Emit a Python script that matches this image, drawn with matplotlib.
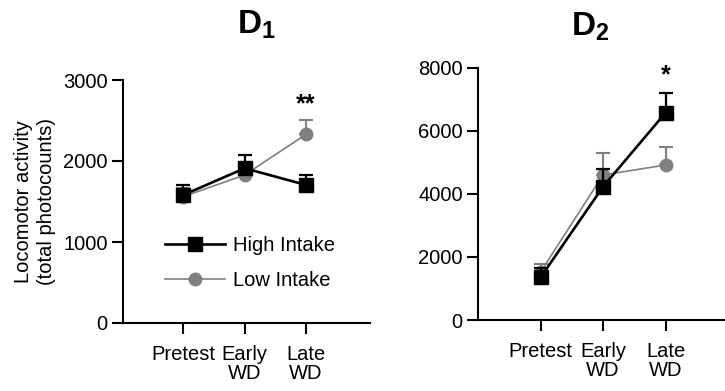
import matplotlib
matplotlib.use("Agg")
import matplotlib.pyplot as plt
import numpy as np

plt.rcParams['font.family'] = ['Liberation Sans', 'DejaVu Sans']
plt.rcParams['mathtext.fontset'] = 'custom'
plt.rcParams['mathtext.rm'] = 'Liberation Sans'
plt.rcParams['mathtext.bf'] = 'Liberation Sans:bold'
plt.rcParams['mathtext.it'] = 'Liberation Sans:italic'

categories = ["Pretest", "Early\nWD", "Late\nWD"]
x_pos = [1, 2, 3]

# Panel D1
d1_high = [1580, 1910, 1704]
d1_high_err = [124, 170, 123]
d1_low = [1560, 1827, 2330]
d1_low_err = [110, 150, 176]
d1_yticks = [0, 1000, 2000, 3000]

# Panel D2
d2_high = [1350, 4227, 6573]
d2_high_err = [300, 560, 615]
d2_low = [1520, 4600, 4914]
d2_low_err = [256, 685, 580]
d2_yticks = [0, 2000, 4000, 6000, 8000]

labels = ["High Intake", "Low Intake"]
titles = [r"$\mathbf{D_1}$", r"$\mathbf{D_2}$"]
sig_d1 = "**"
sig_d2 = "*"

W, H = 725, 391
fig = plt.figure(figsize=(W / 100, H / 100), dpi=100)

def fx(px):
    return px / W

def fy(py):
    return 1 - py / H

ax1 = fig.add_axes([fx(123), fy(323), fx(247), (323 - 80) / H])
ax2 = fig.add_axes([fx(478), fy(320), fx(247), (320 - 67.7) / H])

gray = "#808080"
FS = 14.5

def draw(ax, hi, hi_e, lo, lo_e, yticks, xlim):
    lo_l = ax.errorbar(x_pos, lo, yerr=[np.zeros(len(lo)), lo_e], color=gray,
                       marker='o', markersize=9, lw=1.2, capsize=5, capthick=1.5,
                       elinewidth=1.5, zorder=3)
    hi_l = ax.errorbar(x_pos, hi, yerr=[np.zeros(len(hi)), hi_e], color='black',
                       marker='s', markersize=9.5, lw=1.9, capsize=5, capthick=1.6,
                       elinewidth=1.6, zorder=4)
    ax.set_xlim(*xlim)
    ax.set_ylim(yticks[0], yticks[-1])
    ax.set_yticks(yticks)
    ax.set_xticks(x_pos)
    ax.set_xticklabels(categories, linespacing=1.0)
    for s in ['top', 'right']:
        ax.spines[s].set_visible(False)
    for s in ['left', 'bottom']:
        ax.spines[s].set_linewidth(1.5)
    ax.tick_params(axis='both', length=8, width=1.5, labelsize=FS)
    ax.tick_params(axis='y', pad=3)
    ax.tick_params(axis='x', pad=8)
    return hi_l, lo_l

hl, ll = draw(ax1, d1_high, d1_high_err, d1_low, d1_low_err, d1_yticks, (0.02, 4.04))
draw(ax2, d2_high, d2_high_err, d2_low, d2_low_err, d2_yticks, (0.0, 3.95))

ax1.set_ylabel("Locomotor activity\n(total photocounts)", fontsize=FS, linespacing=1.3,
               labelpad=5)

leg = ax1.legend([hl[0], ll[0]], labels, loc='upper left',
                 bbox_to_anchor=(fx(165), fy(236)), bbox_transform=fig.transFigure,
                 frameon=False, fontsize=FS, handlelength=3.0, handletextpad=0.4,
                 labelspacing=0.8, borderpad=0, borderaxespad=0)

fig.text(fx(256), fy(34), titles[0], fontsize=24, ha='center', va='baseline')
fig.text(fx(590), fy(36), titles[1], fontsize=24, ha='center', va='baseline')

ax1.text(3, 2700, sig_d1, fontsize=18, fontweight='bold', ha='center', va='center')
ax2.text(3, 7750, sig_d2, fontsize=18, fontweight='bold', ha='center', va='center')

fig.savefig("out.png", dpi=100)
